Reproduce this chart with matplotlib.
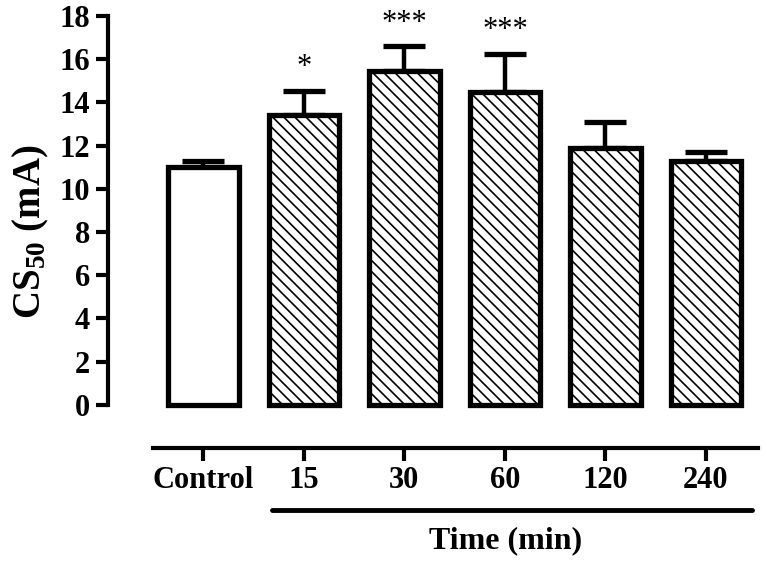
import numpy as np
import matplotlib
matplotlib.use('Agg')
import matplotlib.pyplot as plt
import matplotlib.transforms as mtransforms

plt.rcParams['font.family'] = ['Liberation Serif', 'DejaVu Serif']
plt.rcParams['font.weight'] = 'bold'
plt.rcParams['mathtext.default'] = 'regular'
plt.rcParams['hatch.linewidth'] = 1.2

# data
groups = ['Control', '15', '30', '60', '120', '240']
means = [11.0, 13.4, 15.45, 14.5, 11.9, 11.3]
sem = [0.3, 1.15, 1.15, 1.75, 1.2, 0.4]
stars = ['', '*', '***', '***', '', '']
hatches = ['', '\\\\\\', '\\\\\\', '\\\\\\', '\\\\\\', '\\\\\\']

fig = plt.figure(figsize=(7.63, 5.61), dpi=100)
ax = fig.add_axes([0.1415, 0.2014, 0.8495, 0.7701])

x = np.arange(len(groups))
ax.errorbar(x, means, yerr=[np.zeros(len(sem)), sem], fmt='none', ecolor='k',
            elinewidth=3.2, capsize=15, capthick=3.8, zorder=1)
for xi, m, h in zip(x, means, hatches):
    ax.bar(xi, m, width=0.7, color='white', edgecolor='k', linewidth=3.8,
           hatch=h, zorder=2)

for xi, m, s, st in zip(x, means, sem, stars):
    if st:
        ax.annotate(st, (xi, m + s), xytext=(0, 6), textcoords='offset points',
                    ha='center', va='bottom', fontsize=22, fontweight='normal')

ax.set_xlim(-0.95, 5.5)
ax.set_ylim(-2, 18)
ax.set_yticks(np.arange(0, 19, 2))
ax.set_xticks(x)
ax.set_xticklabels(groups)
ax.spines['top'].set_visible(False)
ax.spines['right'].set_visible(False)
ax.spines['left'].set_bounds(0, 18)
ax.spines['bottom'].set_bounds(-0.5, 5.52)
ax.spines['left'].set_linewidth(3)
ax.spines['bottom'].set_linewidth(3)
ax.tick_params(axis='both', direction='out', length=9, width=3, labelsize=22, pad=4)
for lab in ax.get_xticklabels() + ax.get_yticklabels():
    lab.set_fontweight('bold')

ax.set_ylabel('CS$_{50}$ (mA)', fontsize=28, fontweight='bold', labelpad=6)

# line under the time points
trans = mtransforms.blended_transform_factory(ax.transData, fig.transFigure)
ax.plot([0.68, 5.46], [0.091, 0.091], color='k', linewidth=3.5,
        transform=trans, clip_on=False, solid_capstyle='round')
fig.text(0.662, 0.01, 'Time (min)', ha='center', va='bottom', fontsize=23,
         fontweight='bold')

fig.savefig('out.png', dpi=100)
